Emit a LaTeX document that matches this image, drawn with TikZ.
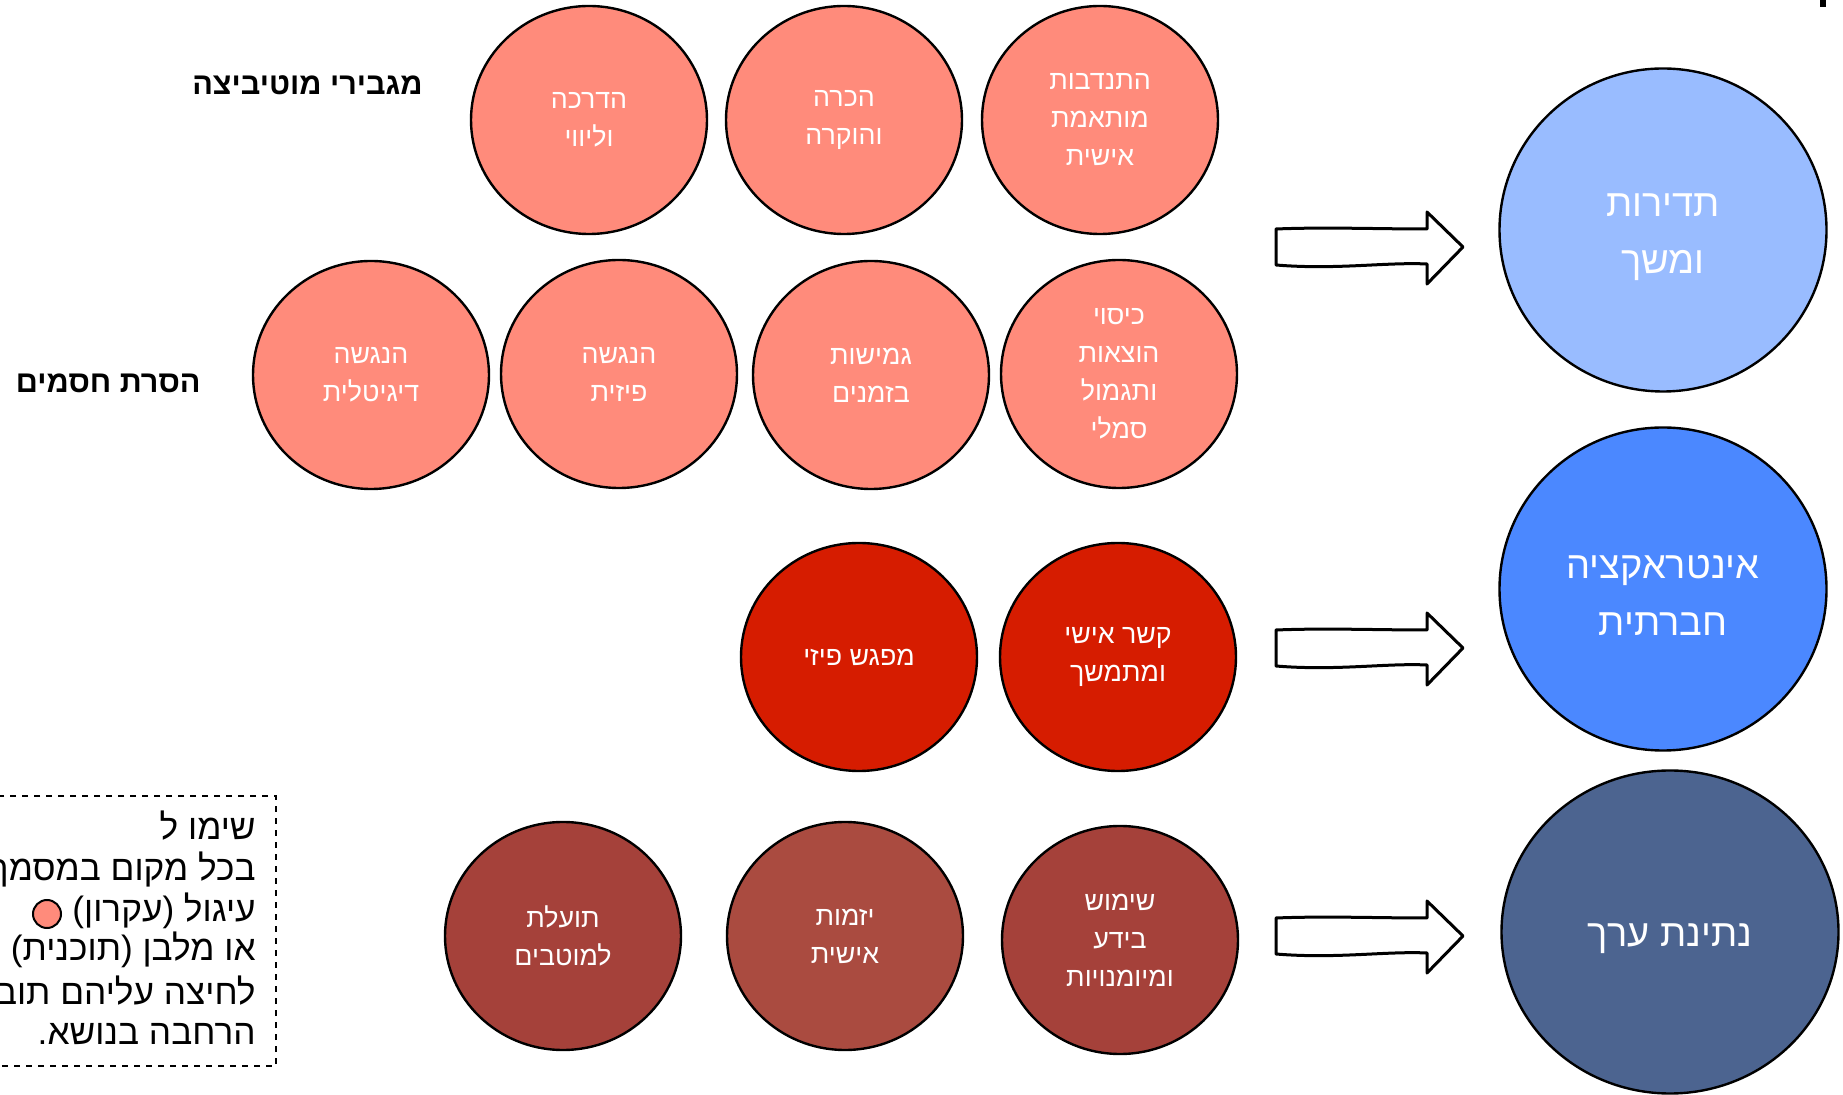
\documentclass[tikz,border=0pt]{standalone}
\usepackage{fontspec}
\setmainfont{Liberation Sans}
\newfontfamily\hebfont[Script=Hebrew]{Liberation Sans}
\usetikzlibrary{shapes.geometric}
\TeXXeTstate=1
\newcommand\heb[1]{\beginR #1\endR}
\definecolor{salmon}{HTML}{FF8B7B}
\definecolor{redc}{HTML}{D61C00}
\definecolor{browna}{HTML}{A5413A}
\definecolor{brownb}{HTML}{AA4B40}
\definecolor{bluea}{HTML}{99BCFF}
\definecolor{blueb}{HTML}{4B88FF}
\definecolor{bluec}{HTML}{4C6490}
\begin{document}
\begin{tikzpicture}[x=0.5pt,y=-0.5pt,
  circ/.style={ellipse, draw=black, line width=1.2pt, minimum width=118pt, minimum height=114pt,
    inner sep=0pt, text=white, font=\hebfont\fontsize{13.4}{19}\selectfont, align=center},
  big/.style={ellipse, draw=black, line width=1.2pt, minimum width=163.5pt, minimum height=161.5pt, inner sep=0pt},
  bigtxt/.style={inner sep=0pt, text=white, align=center, font=\hebfont\fontsize{19}{28.5}\selectfont},
  lab/.style={anchor=east, inner sep=0pt, font=\hebfont\bfseries\fontsize{15.3}{17}\selectfont},
  legtxt/.style={anchor=east, inner sep=0pt, font=\hebfont\fontsize{17.6}{20}\selectfont},
  blockarr/.pic={\draw[line width=1.5pt, line join=round, fill=white]
     (0,-19) .. controls (50,-21) and (100,-19) .. (151,-19) -- (151,-36) -- (187,-1) -- (151,36)
     -- (151,16) .. controls (110,14) and (60,22) .. (0,17) -- cycle;}
]
\useasboundingbox (0,0) rectangle (1843,1095);

% top-right mark
\fill (1820,0) rectangle (1826,7);

% labels
\node[lab] (lmot) at (423,85) {\heb{מגבירי מוטיביצה}};
\node[lab] (lhas) at (201,383) {\heb{הסרת חסמים}};

% row 1
\node[circ, fill=salmon] (c1) at (589,120) {\heb{הדרכה}\\\heb{וליווי}};
\node[circ, fill=salmon] (c2) at (844,120) {\heb{הכרה}\\\heb{והוקרה}};
\node[circ, fill=salmon] (c3) at (1100,120) {\heb{התנדבות}\\\heb{מותאמת}\\\heb{אישית}};
% row 2
\node[circ, fill=salmon] (c4) at (371,375) {\heb{הנגשה}\\\heb{דיגיטלית}};
\node[circ, fill=salmon] (c5) at (619,374) {\heb{הנגשה}\\\heb{פיזית}};
\node[circ, fill=salmon] (c6) at (871,375) {\heb{גמישות}\\\heb{בזמנים}};
\node[circ, fill=salmon] (c7) at (1119,374) {\heb{כיסוי}\\\heb{הוצאות}\\\heb{ותגמול}\\\heb{סמלי}};
% row 3
\node[circ, fill=redc] (c8) at (859,657) {\heb{מפגש פיזי}};
\node[circ, fill=redc] (c9) at (1118,657) {\heb{קשר אישי}\\\heb{ומתמשך}};
% row 4
\node[circ, fill=browna] (c10) at (563,936) {\heb{תועלת}\\\heb{למוטבים}};
\node[circ, fill=brownb] (c11) at (845,936) {\heb{יזמות}\\\heb{אישית}};
\node[circ, fill=browna] (c12) at (1120,940) {\heb{שימוש}\\\heb{בידע}\\\heb{ומיומנויות}};

% big circles
\node[big, fill=bluea] (b1) at (1663,230) {};
\node[big, fill=blueb] (b2) at (1663,589) {};
\node[big, fill=bluec, minimum width=168.5pt] (b3) at (1670,932) {};
\node[bigtxt] (t1) at ([yshift=-3.5pt]b1.center) {\heb{תדירות}\\\heb{ומשך}};
\node[bigtxt] (t2) at ([yshift=-3pt]b2.center) {\heb{אינטראקציה}\\\heb{חברתית}};
\node[bigtxt] (t3) at ([yshift=-3.5pt]b3.center) {\heb{נתינת ערך}};

% block arrows
\pic (a1) at (1276,248) {blockarr};
\pic (a2) at (1276,649) {blockarr};
\pic (a3) at (1276,937) {blockarr};

% legend
\begin{scope}
\clip (0,0) rectangle (1843,1095);
\draw[dashed, line width=0.8pt] (-40,796) rectangle (276,1066);
\node[legtxt] (g1) at (256,826) {\heb{שימו ל}};
\node[legtxt] (g2) at (256,870) {\heb{בכל מקום במסמך}};
\node[legtxt] (g3) at (256,911) {\heb{עיגול (עקרון)}};
\node[legtxt] (g4) at (256,950) {\heb{או מלבן (תוכנית)}};
\node[legtxt] (g5) at (256,991) {\heb{לחיצה עליהם תוב}};
\node[legtxt] (g6) at (256,1034) {\heb{הרחבה בנושא.}};
\node[circle, draw=black, line width=1pt, fill=salmon, minimum size=14pt, inner sep=0pt] (gc) at (47,914) {};
\end{scope}
\end{tikzpicture}
\end{document}
